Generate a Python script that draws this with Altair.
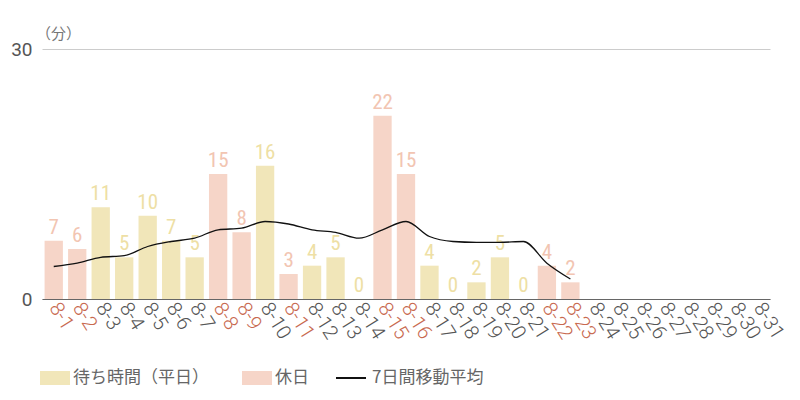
import altair as alt
import pandas as pd

days = ["8-1", "8-2", "8-3", "8-4", "8-5", "8-6", "8-7", "8-8", "8-9", "8-10",
        "8-11", "8-12", "8-13", "8-14", "8-15", "8-16", "8-17", "8-18", "8-19", "8-20",
        "8-21", "8-22", "8-23", "8-24", "8-25", "8-26", "8-27", "8-28", "8-29", "8-30", "8-31"]
data_days = days[:23]
wait_times = [7, 6, 11, 5, 10, 7, 5, 15, 8, 16, 3, 4, 5, 0, 22, 15, 4, 0, 2, 5, 0, 4, 2]
holidays = ["8-1", "8-2", "8-8", "8-9", "8-11", "8-15", "8-16", "8-22", "8-23"]
moving_avg = [3.9, 4.3, 5.0, 5.2, 6.3, 6.9, 7.3, 8.3, 8.5, 9.3, 9.0, 8.3, 8.0, 7.3,
              8.3, 9.3, 7.5, 6.9, 6.8, 6.8, 6.9, 4.3, 2.4]

WEEKDAY = "待ち時間（平日）"
HOLIDAY = "休日"
LINE = "7日間移動平均"

bars_df = pd.DataFrame({
    "day": data_days,
    "value": wait_times,
    "type": [HOLIDAY if d in holidays else WEEKDAY for d in data_days],
})
line_df = pd.DataFrame({"day": data_days, "avg": moving_avg, "series": LINE})

x = alt.X("day:N", scale=alt.Scale(domain=days, paddingInner=0.22, paddingOuter=0.11),
          axis=alt.Axis(title=None, labelAngle=58, labelAlign="left", labelBaseline="middle",
                        labelFontSize=20, labelFont="Roboto", labelFontWeight=300, ticks=False, labelPadding=5,
                        domainColor="#666666", labelOverlap=False,
                        labelColor=alt.ExprRef(expr="indexof(" + str(holidays) + ", datum.value) >= 0 ? '#c8694f' : '#555555'")))
yscale = alt.Scale(domain=[0, 30], nice=False)
yaxis = alt.Axis(values=[0, 30], title="（分）", titleAngle=0, titleX=16, titleY=-16,
                 titleAlign="center", titleBaseline="middle", titleFontSize=15,
                 titleFontWeight="normal", titleColor="#777777", titleFont="Noto Sans CJK JP",
                 labelFontSize=19, labelFont="Roboto", labelColor="#555555", labelPadding=10,
                 domain=False, ticks=False, gridColor="#cccccc")

bars = alt.Chart(bars_df).mark_bar().encode(
    x=x,
    y=alt.Y("value:Q", scale=yscale, axis=yaxis),
    color=alt.Color("type:N", scale=alt.Scale(domain=[WEEKDAY, HOLIDAY], range=["#f1e6b9", "#f6d5c8"]),
                    legend=alt.Legend(title=None, orient="none", legendX=3, legendY=319,
                                      direction="horizontal", symbolType="M-1.5,-0.7L1.5,-0.7L1.5,0.7L-1.5,0.7Z",
                                      symbolSize=400, symbolStrokeWidth=0, labelOffset=8, columnPadding=33,
                                      labelFontSize=17, labelColor="#666666", labelFont="Noto Sans CJK JP",
                                      labelLimit=300)),
)

labels = alt.Chart(bars_df).mark_text(dy=-3, fontSize=21, font="Roboto Condensed, Roboto",
                                      baseline="bottom").encode(
    x=alt.X("day:N", scale=alt.Scale(domain=days)),
    y=alt.Y("value:Q", scale=yscale),
    text="value:Q",
    color=alt.condition(alt.datum.type == HOLIDAY, alt.value("#f2c5b2"), alt.value("#eedfa5")),
)

line = alt.Chart(line_df).mark_line(interpolate="monotone", strokeWidth=1.3).encode(
    x=alt.X("day:N", scale=alt.Scale(domain=days)),
    y=alt.Y("avg:Q", scale=yscale),
    stroke=alt.Stroke("series:N", scale=alt.Scale(domain=[LINE], range=["#111111"]),
                      legend=alt.Legend(title=None, orient="none", legendX=293, legendY=313,
                                        symbolType="stroke", symbolSize=900, symbolStrokeWidth=2,
                                        labelOffset=5, labelFontSize=17, labelColor="#666666",
                                        labelFont="Noto Sans CJK JP")),
)

chart = alt.layer(bars, labels, line).resolve_scale(color="independent").properties(
    width=728, height=250,
    autosize=alt.AutoSizeParams(type="none"),
    padding={"left": 34, "top": 41, "right": 22, "bottom": 100},
).configure_view(stroke=None)

chart.save("out.html", embed_options={"renderer": "svg", "actions": False})
